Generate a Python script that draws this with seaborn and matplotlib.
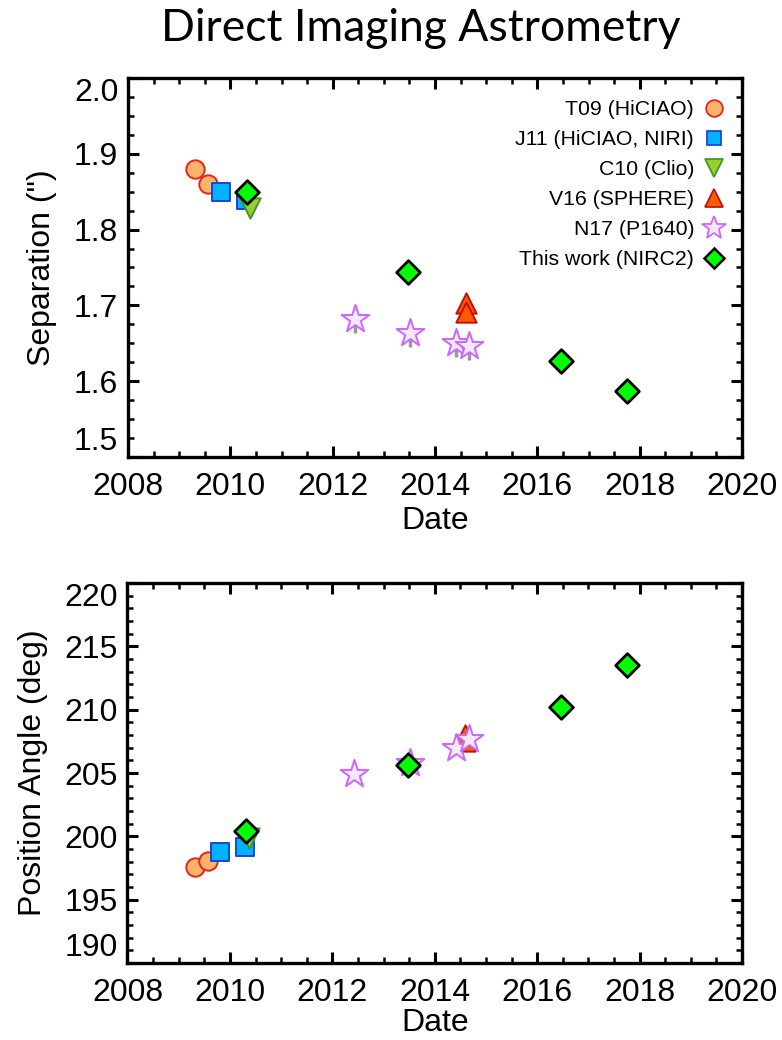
import numpy as np
import pandas as pd
import matplotlib
matplotlib.use("Agg")
import matplotlib.pyplot as plt
from matplotlib.ticker import MultipleLocator
from matplotlib.lines import Line2D
import seaborn as sns

# ---------------- data ----------------
t09_date = [2009.31, 2009.57]
t09_sep = [1.880, 1.860]
t09_pa = [197.6, 198.07]

j11_date = [2009.81, 2010.30]
j11_sep = [1.850, 1.839]
j11_sep_err = [0.012, 0.012]
j11_pa = [198.75, 199.2]

c10_date = [2010.38]
c10_sep = [1.828]
c10_pa = [199.9]

v16_date = [2014.60, 2014.60]
v16_sep = [1.703, 1.691]
v16_pa = [207.5, 208.0]

n17_date = [2012.43, 2013.52, 2014.41, 2014.67]
n17_sep = [1.682, 1.663, 1.650, 1.646]
n17_sep_err = [0.018, 0.018, 0.018, 0.018]
n17_pa = [204.94, 205.8, 206.96, 207.67]

nirc2_date = [2010.32, 2013.48, 2016.47, 2017.75]
nirc2_sep = [1.849, 1.744, 1.627, 1.587]
nirc2_pa = [200.45, 205.6, 210.24, 213.49]

labels = ["T09 (HiCIAO)", "J11 (HiCIAO, NIRI)", "C10 (Clio)",
          "V16 (SPHERE)", "N17 (P1640)", "This work (NIRC2)"]
x_ticks = [2008, 2010, 2012, 2014, 2016, 2018, 2020]

# ---------------- style ----------------
sns.set_style("ticks")
plt.rcParams["font.family"] = ["Liberation Sans", "DejaVu Sans"]
plt.rcParams["text.color"] = "black"
plt.rcParams["axes.labelcolor"] = "black"
plt.rcParams["xtick.color"] = "black"
plt.rcParams["ytick.color"] = "black"

styles = [
    dict(marker="o", fc="#FDB36A", ec="#E8231E", s=175, lw=1.4, lms=12),
    dict(marker="s", fc="#00B2FF", ec="#1446D8", s=155, lw=1.4, lms=10.5),
    dict(marker="v", fc="#9ACD32", ec="#3C9A1E", s=215, lw=1.4, lms=13),
    dict(marker="^", fc="#FF5A00", ec="#C21010", s=215, lw=1.4, lms=13),
    dict(marker="*", fc="#F6E8FF", ec="#CC66FF", s=440, lw=1.4, lms=18),
    dict(marker="D", fc="#00FF00", ec="#000000", s=145, lw=2.0, lms=10),
]

fig = plt.figure(figsize=(7.82, 10.4), dpi=100)
ax1 = fig.add_axes([0.1637, 0.5606, 0.7852, 0.3644])
ax2 = fig.add_axes([0.1630, 0.0740, 0.7859, 0.3654])

top_sets = [(t09_date, t09_sep), (j11_date, j11_sep), (c10_date, c10_sep),
            (v16_date, v16_sep), (n17_date, n17_sep), (nirc2_date, nirc2_sep)]
bot_sets = [(t09_date, t09_pa), (j11_date, j11_pa), (c10_date, c10_pa),
            (v16_date, v16_pa), (n17_date, n17_pa), (nirc2_date, nirc2_pa)]

# error bars (gray, behind markers)
ax1.errorbar(j11_date, j11_sep, yerr=j11_sep_err, fmt="none", ecolor="#9a9a9a",
             elinewidth=2.5, capsize=0, zorder=1)
ax1.errorbar(n17_date, n17_sep, yerr=n17_sep_err, fmt="none", ecolor="#9a9a9a",
             elinewidth=2.5, capsize=0, zorder=1)

for ax, sets in [(ax1, top_sets), (ax2, bot_sets)]:
    for i, ((x, y), st) in enumerate(zip(sets, styles)):
        df = pd.DataFrame({"date": x, "val": y})
        sns.scatterplot(data=df, x="date", y="val", ax=ax, marker=st["marker"],
                        s=st["s"], color=st["fc"], edgecolor=st["ec"],
                        linewidth=st["lw"], zorder=3 + i, legend=False)

for ax in (ax1, ax2):
    ax.set_xlim(2008, 2020)
    ax.set_xticks(x_ticks)
    ax.xaxis.set_minor_locator(MultipleLocator(0.5))
    ax.tick_params(which="both", direction="in", top=True, right=True,
                   labelsize=23, color="black", labelcolor="black")
    ax.tick_params(which="major", length=8, width=2.2)
    ax.tick_params(which="minor", length=4, width=1.8)
    ax.tick_params(axis="x", which="major", pad=11)
    ax.tick_params(axis="y", which="major", pad=7)
    for sp in ax.spines.values():
        sp.set_linewidth(2.4)
        sp.set_color("black")

ax1.set_xlabel("Date", fontsize=23, labelpad=3, color="black")
ax2.set_xlabel("Date", fontsize=23, labelpad=0, color="black")

ax1.set_ylim(1.5, 2.0)
ax1.set_yticks([1.5, 1.6, 1.7, 1.8, 1.9, 2.0])
ax1.set_yticklabels(["1.5", "1.6", "1.7", "1.8", "1.9", "2.0"])
ax1.yaxis.set_minor_locator(MultipleLocator(0.025))
ax1.set_ylabel('Separation (")', fontsize=23, labelpad=12, color="black")

ax2.set_ylim(190, 220)
ax2.set_yticks([190, 195, 200, 205, 210, 215, 220])
ax2.yaxis.set_minor_locator(MultipleLocator(1))
ax2.set_ylabel("Position Angle (deg)", fontsize=23, labelpad=12, color="black")

for ax in (ax1, ax2):
    tl = ax.get_yticklabels()
    tl[0].set_va("bottom")
    tl[-1].set_va("top")

handles = [Line2D([], [], ls="none", marker=st["marker"], markersize=st["lms"],
                  markerfacecolor=st["fc"], markeredgecolor=st["ec"],
                  markeredgewidth=st["lw"] * 0.9) for st in styles]
ax1.legend(handles, labels, loc="upper right", bbox_to_anchor=(0.993, 0.975),
           frameon=False, markerfirst=False, fontsize=15.3, handlelength=1.0,
           handletextpad=0.45, labelspacing=0.52, borderaxespad=0.2,
           labelcolor="black")

fig.text(0.538, 0.973, "Direct Imaging Astrometry", ha="center", va="center",
         fontsize=32, family=["Lato", "DejaVu Sans"], color="black")

fig.savefig("out.png", dpi=100)
